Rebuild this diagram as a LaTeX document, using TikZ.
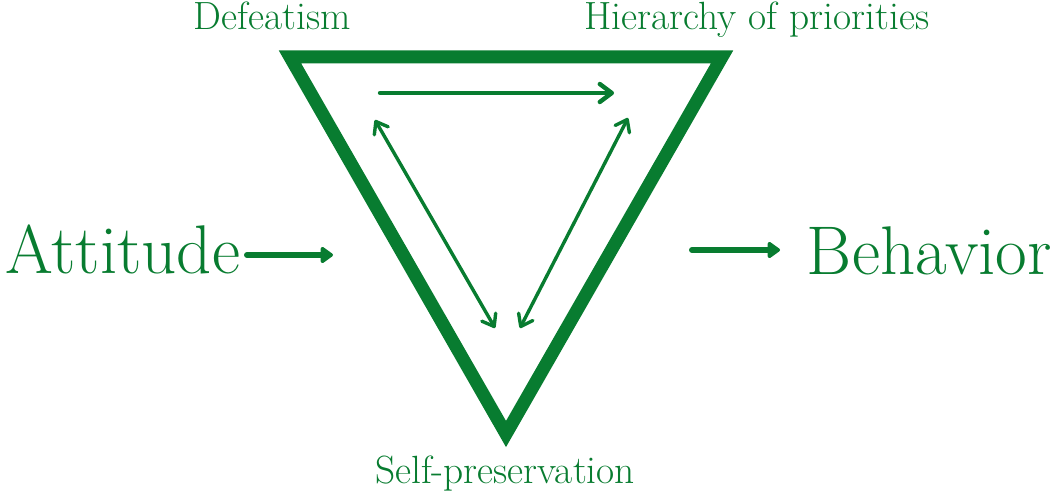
\documentclass[tikz,border=0pt]{standalone}
\usepackage{tikz}
\usetikzlibrary{arrows.meta}
\definecolor{leafgreen}{RGB}{8,124,48}

\begin{document}
\begin{tikzpicture}[x=0.025cm, y=0.025cm,
    bigword/.style={text=leafgreen, inner sep=0pt, font=\fontsize{49}{56}\selectfont},
    smallword/.style={text=leafgreen, inner sep=0pt, anchor=base, font=\fontsize{28}{33}\selectfont},
    thickarrow/.style={line width=0.15cm, color=leafgreen, line cap=round, -{Triangle[round, length=0.34cm, width=0.46cm]}},
    innerarrow/.style={line width=0.11cm, color=leafgreen, line cap=round, -{Straight Barb[round, length=0.3cm, width=0.45cm]}},
    twoway/.style={line width=0.085cm, color=leafgreen, line cap=round, {Straight Barb[round, length=0.27cm, width=0.4cm]}-{Straight Barb[round, length=0.27cm, width=0.4cm]}}]
  \useasboundingbox (0,0) rectangle (1057,493);
  % corners of the triangle
  \coordinate (tl) at (290,436);
  \coordinate (tr) at (722,436);
  \coordinate (bt) at (506,59);
  \draw[line width=0.325cm, color=leafgreen, line join=miter] (tl) -- (tr) -- (bt) -- cycle;
  % labels
  \node[smallword] (defeat) at (272,463) {Defeatism};
  \node[smallword] (hier) at (757,463) {Hierarchy of priorities};
  \node[smallword] (self) at (505,10) {Self-preservation};
  \node[bigword, anchor=base west] (att) at (5,219) {Attitude};
  \node[bigword, anchor=base east] (beh) at (1052,218) {Behavior};
  % inner arrows
  \coordinate (dA) at (380,400);
  \coordinate (hA) at (614,400);
  \coordinate (dB) at (375,373);
  \coordinate (sB) at (495,165);
  \coordinate (hC) at (628,375);
  \coordinate (sC) at (520,165);
  \draw[innerarrow] (dA) -- (hA);
  \draw[twoway] (dB) -- (sB);
  \draw[twoway] (hC) -- (sC);
  % outer arrows
  \coordinate (attS) at (247,238);
  \coordinate (attE) at (333,238);
  \coordinate (behS) at (692,243);
  \coordinate (behE) at (780,243);
  \draw[thickarrow] (attS) -- (attE);
  \draw[thickarrow] (behS) -- (behE);
\end{tikzpicture}
\end{document}
